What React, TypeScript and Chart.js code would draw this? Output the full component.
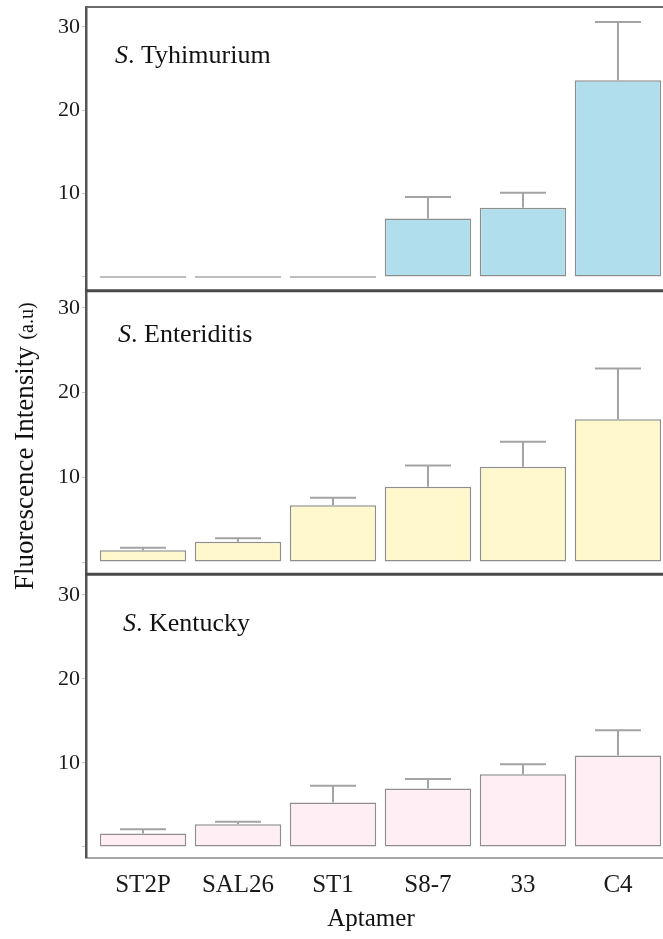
import React, { useEffect, useRef } from 'react';
import { Chart, registerables } from 'chart.js';

Chart.register(...registerables);

// ---- data ----
const APTAMERS = ['ST2P', 'SAL26', 'ST1', 'S8-7', '33', 'C4'];
const TYPHIMURIUM_MEAN = [0, 0, 0, 7.0, 8.3, 23.6];
const TYPHIMURIUM_ERR = [0, 0, 0, 2.6, 1.8, 7.0];
const ENTERITIDIS_MEAN = [1.4, 2.4, 6.7, 8.9, 11.25, 16.85];
const ENTERITIDIS_ERR = [0.3, 0.4, 0.9, 2.5, 2.95, 6.0];
const KENTUCKY_MEAN = [1.6, 2.7, 5.3, 6.95, 8.65, 10.9];
const KENTUCKY_ERR = [0.5, 0.3, 2.0, 1.15, 1.2, 3.0];
const Y_TICKS = [0, 10, 20, 30];
const PANEL_NAMES = ['Tyhimurium', 'Enteriditis', 'Kentucky'];

const SERIF = '"Liberation Serif", "Times New Roman", serif';

const PANELS = [
  { id: 'yT', name: PANEL_NAMES[0], mean: TYPHIMURIUM_MEAN, err: TYPHIMURIUM_ERR, fill: '#b1deec', min: -1.65, max: 32.4, lx: 115, ly: 56 },
  { id: 'yE', name: PANEL_NAMES[1], mean: ENTERITIDIS_MEAN, err: ENTERITIDIS_ERR, fill: '#fff8cc', min: -1.45, max: 32.03, lx: 118, ly: 51 },
  { id: 'yK', name: PANEL_NAMES[2], mean: KENTUCKY_MEAN, err: KENTUCKY_ERR, fill: '#ffeef3', min: -1.31, max: 32.46, lx: 123, ly: 57 },
];

const decorPlugin = {
  id: 'decor',
  afterDatasetsDraw(chart: any) {
    const ctx = chart.ctx;
    PANELS.forEach((p, di) => {
      const meta = chart.getDatasetMeta(di);
      const yScale = chart.scales[p.id];
      meta.data.forEach((bar: any, i: number) => {
        const e = p.err[i];
        if (!e) return;
        const top = yScale.getPixelForValue(p.mean[i] + e);
        ctx.save();
        ctx.strokeStyle = '#a3a3a3';
        ctx.lineWidth = 2;
        ctx.beginPath();
        ctx.moveTo(bar.x, bar.y);
        ctx.lineTo(bar.x, top);
        ctx.moveTo(bar.x - 23, top);
        ctx.lineTo(bar.x + 23, top);
        ctx.stroke();
        ctx.restore();
      });
    });
  },
  afterDraw(chart: any) {
    const ctx = chart.ctx;
    const area = chart.chartArea;
    ctx.save();
    // frame lines
    ctx.strokeStyle = '#6a6a6a';
    ctx.lineWidth = 2;
    ctx.beginPath();
    ctx.moveTo(area.left, area.top);
    ctx.lineTo(area.right, area.top);
    ctx.stroke();
    ctx.strokeStyle = '#4a4a4a';
    ctx.lineWidth = 3;
    [chart.scales.yT.bottom, chart.scales.yE.bottom].forEach((y: number) => {
      ctx.beginPath();
      ctx.moveTo(area.left - 1, y);
      ctx.lineTo(area.right, y);
      ctx.stroke();
    });
    // panel labels
    ctx.fillStyle = '#111';
    ctx.textBaseline = 'alphabetic';
    ctx.textAlign = 'left';
    PANELS.forEach((p) => {
      const s = chart.scales[p.id];
      const y = s.top + p.ly;
      ctx.font = `italic 26px ${SERIF}`;
      ctx.fillText('S', p.lx, y);
      const w1 = ctx.measureText('S').width;
      ctx.font = `26px ${SERIF}`;
      ctx.fillText('. ' + p.name, p.lx + w1, y);
    });
    // x title
    ctx.font = `25px ${SERIF}`;
    ctx.textAlign = 'center';
    ctx.fillText('Aptamer', 371, 926);
    // y title
    ctx.translate(33, 590);
    ctx.rotate(-Math.PI / 2);
    ctx.textAlign = 'left';
    ctx.font = `27px ${SERIF}`;
    const main = 'Fluorescence Intensity';
    ctx.fillText(main, 0, 0);
    const mw = ctx.measureText(main + ' ').width;
    ctx.font = `20px ${SERIF}`;
    ctx.fillText('(a.u)', mw, 0);
    ctx.restore();
  },
};

export default function App() {
  const ref = useRef<HTMLCanvasElement>(null);
  useEffect(() => {
    if (!ref.current) return;
    const yScales: any = {};
    // stacked axes are placed top-down from the last defined one
    [...PANELS].reverse().forEach((p) => {
      yScales[p.id] = {
        type: 'linear',
        position: 'left',
        stack: 'panels',
        stackWeight: 1,
        min: p.min,
        max: p.max,
        afterBuildTicks: (s: any) => {
          s.ticks = Y_TICKS.map((v) => ({ value: v }));
        },
        afterFit: (s: any) => {
          s.width = 86;
          s.paddingTop = 0;
          s.paddingBottom = 0;
        },
        ticks: {
          callback: (v: number) => (v === 0 ? '' : String(v)),
          font: { family: SERIF, size: 22 },
          color: '#1a1a1a',
          padding: 2,
        },
        grid: { drawOnChartArea: false, tickLength: 4, color: '#c4c4c4', lineWidth: 1 },
        border: { display: true, color: '#555', width: 2.5 },
      };
    });
    const chart = new Chart(ref.current, {
      type: 'bar',
      data: {
        datasets: PANELS.map((p) => ({
          label: p.name,
          data: p.mean.map((v, i) => ({ x: i, y: v })),
          yAxisID: p.id,
          xAxisID: 'x',
          backgroundColor: p.fill,
          borderColor: (c: any) => (c.raw && c.raw.y === 0 ? '#bdbdbd' : '#8e8e8e'),
          borderWidth: 1.5,
          borderSkipped: false,
          minBarLength: 2,
          grouped: false,
          barPercentage: 0.91,
          categoryPercentage: 1,
        })) as any,
      },
      options: {
        animation: false,
        responsive: false,
        maintainAspectRatio: false,
        layout: { padding: { top: 7, right: 0, left: 0, bottom: 0 } },
        plugins: { legend: { display: false }, tooltip: { enabled: false } },
        scales: {
          x: {
            type: 'linear',
            position: 'bottom',
            offset: false,
            min: -0.6,
            max: 5.474,
            afterBuildTicks: (s: any) => {
              s.ticks = APTAMERS.map((_, i) => ({ value: i }));
            },
            afterFit: (s: any) => {
              s.height = 81;
              s.paddingLeft = 0;
              s.paddingRight = 0;
            },
            ticks: {
              callback: (v: number) => APTAMERS[v] ?? '',
              font: { family: SERIF, size: 25 },
              color: '#1a1a1a',
              padding: 4,
              autoSkip: false,
              maxRotation: 0,
            },
            grid: { display: false, offset: false },
            border: { display: true, color: '#a8a8a8', width: 2 },
          },
          ...yScales,
        },
      } as any,
      plugins: [decorPlugin],
    });
    return () => chart.destroy();
  }, []);
  return (
    <div style={{ position: 'absolute', left: 0, top: 0, width: 663, height: 939, background: '#fff' }}>
      <canvas ref={ref} width={663} height={939} style={{ display: 'block', width: 663, height: 939 }} />
    </div>
  );
}
